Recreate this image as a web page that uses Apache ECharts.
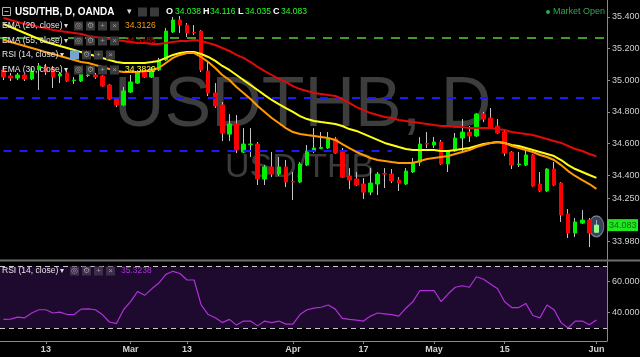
<!DOCTYPE html>
<html><head><meta charset="utf-8">
<script src="https://cdn.jsdelivr.net/npm/echarts@6/dist/echarts.min.js"></script>
<style>html,body{margin:0;padding:0;background:#000;}#c{width:640px;height:357px;}</style>
</head><body><div id="c"></div>
<script>
// ---- data (USD/THB daily, OANDA) ----
const open = [35.065,35.027,35.014,35.033,35.008,35.065,35.084,35.071,35.027,35.046,
 34.998,34.995,35.030,35.033,35.027,34.970,34.881,34.843,34.925,34.982,
 35.052,35.020,35.065,35.128,35.305,35.381,35.349,35.302,35.311,35.058,
 34.919,34.843,34.659,34.723,34.545,34.593,34.596,34.375,34.451,34.406,
 34.451,34.359,34.356,34.463,34.552,34.568,34.571,34.628,34.545,34.394,
 34.375,34.343,34.292,34.343,34.409,34.406,34.368,34.343,34.419,34.482,
 34.599,34.590,34.609,34.470,34.552,34.634,34.672,34.647,34.786,34.761,
 34.710,34.672,34.545,34.466,34.463,34.527,34.343,34.299,34.438,34.349,
 34.153,34.033,34.096,34.115,34.038];
const close = [35.020,35.014,35.033,35.008,35.058,35.090,35.052,35.020,35.039,34.995,
 35.001,35.039,35.033,35.020,34.963,34.881,34.843,34.932,34.989,35.052,
 35.020,35.071,35.128,35.311,35.381,35.349,35.299,35.299,35.065,34.919,
 34.837,34.666,34.723,34.558,34.596,34.596,34.375,34.451,34.406,34.451,
 34.356,34.356,34.470,34.552,34.571,34.574,34.628,34.539,34.387,34.368,
 34.337,34.292,34.349,34.406,34.406,34.362,34.349,34.425,34.482,34.596,
 34.596,34.609,34.470,34.552,34.634,34.672,34.647,34.786,34.754,34.697,
 34.666,34.539,34.463,34.470,34.527,34.330,34.299,34.438,34.337,34.147,
 34.033,34.103,34.115,34.033,34.083];
const high = [35.090,35.046,35.046,35.039,35.077,35.109,35.103,35.090,35.052,35.058,
 35.020,35.046,35.065,35.046,35.033,34.976,34.887,34.957,35.033,35.058,
 35.065,35.084,35.141,35.330,35.400,35.406,35.362,35.349,35.318,35.122,
 34.982,34.862,34.786,34.780,34.697,34.697,34.609,34.463,34.546,34.514,
 34.495,34.419,34.482,34.590,34.697,34.672,34.672,34.641,34.571,34.444,
 34.419,34.381,34.444,34.419,34.444,34.438,34.387,34.444,34.508,34.640,
 34.672,34.641,34.622,34.558,34.666,34.754,34.710,34.792,34.799,34.824,
 34.754,34.678,34.552,34.546,34.558,34.533,34.419,34.444,34.482,34.356,
 34.185,34.128,34.178,34.128,34.116];
const low = [35.001,34.995,35.001,34.995,35.001,34.938,35.033,34.951,34.982,34.989,
 34.976,34.989,35.020,35.008,34.957,34.875,34.830,34.837,34.919,34.976,
 35.014,35.014,35.058,35.122,35.299,35.299,35.273,35.286,35.052,34.900,
 34.824,34.615,34.615,34.539,34.539,34.514,34.337,34.337,34.387,34.394,
 34.324,34.242,34.349,34.457,34.539,34.565,34.565,34.533,34.381,34.311,
 34.330,34.248,34.273,34.273,34.318,34.349,34.299,34.337,34.413,34.457,
 34.571,34.571,34.463,34.419,34.546,34.546,34.609,34.641,34.735,34.691,
 34.659,34.520,34.438,34.451,34.457,34.324,34.292,34.292,34.330,34.103,
 34.001,34.008,34.090,33.944,34.035];
const ema20 = [35.254,35.242,35.229,35.216,35.204,35.191,35.178,35.166,35.153,35.141,
 35.128,35.115,35.109,35.096,35.084,35.071,35.058,35.052,35.052,35.052,
 35.058,35.065,35.077,35.109,35.141,35.160,35.172,35.172,35.147,35.115,
 35.077,35.033,35.001,34.957,34.919,34.881,34.837,34.799,34.761,34.729,
 34.697,34.672,34.660,34.653,34.647,34.641,34.634,34.622,34.596,34.571,
 34.546,34.527,34.508,34.495,34.489,34.482,34.476,34.476,34.476,34.489,
 34.501,34.508,34.514,34.520,34.533,34.546,34.558,34.577,34.590,34.603,
 34.609,34.603,34.584,34.571,34.558,34.546,34.527,34.514,34.495,34.463,
 34.425,34.394,34.368,34.343,34.3126];
const ema30 = [35.356,35.337,35.318,35.299,35.280,35.261,35.242,35.229,35.216,35.204,
 35.191,35.178,35.166,35.153,35.141,35.128,35.115,35.109,35.109,35.109,
 35.109,35.115,35.122,35.141,35.160,35.172,35.178,35.178,35.166,35.147,
 35.122,35.090,35.065,35.033,35.001,34.970,34.938,34.906,34.875,34.849,
 34.824,34.799,34.773,34.754,34.742,34.735,34.729,34.723,34.710,34.691,
 34.679,34.660,34.641,34.622,34.603,34.590,34.577,34.565,34.558,34.558,
 34.558,34.558,34.552,34.552,34.558,34.565,34.571,34.584,34.596,34.603,
 34.609,34.603,34.590,34.584,34.571,34.558,34.546,34.533,34.520,34.495,
 34.463,34.438,34.419,34.400,34.382];
const ema55 = [35.394,35.381,35.368,35.356,35.349,35.337,35.330,35.318,35.311,35.305,
 35.299,35.292,35.280,35.273,35.267,35.261,35.254,35.248,35.242,35.235,
 35.235,35.229,35.229,35.235,35.242,35.248,35.248,35.254,35.248,35.235,
 35.223,35.204,35.185,35.160,35.141,35.115,35.084,35.058,35.033,35.008,
 34.989,34.963,34.944,34.932,34.919,34.913,34.906,34.900,34.881,34.856,
 34.830,34.811,34.792,34.780,34.767,34.761,34.748,34.742,34.735,34.729,
 34.723,34.716,34.710,34.710,34.704,34.704,34.697,34.697,34.697,34.697,
 34.691,34.685,34.672,34.666,34.660,34.653,34.641,34.628,34.615,34.603,
 34.584,34.565,34.552,34.533,34.5185];
const rsi = [35.7,35.9,37.1,36.7,39.8,41.9,41.9,39.8,40.4,38.8,
 38.8,42.3,42.5,41.9,38.8,34.0,33.0,41.9,47.1,53.7,
 51.2,55.4,59.1,64.7,66.7,65.3,61.1,61.1,45.0,38.8,
 36.7,33.6,35.7,32.0,34.6,34.6,31.5,34.6,33.6,34.6,
 32.6,32.6,38.8,41.9,42.9,43.5,45.0,42.3,36.3,35.7,
 35.2,34.6,37.8,39.8,39.3,38.8,37.8,42.9,47.1,54.3,
 54.3,54.3,47.1,52.2,56.4,57.4,56.4,63.2,61.6,58.5,
 55.4,47.1,43.3,43.3,46.0,38.2,36.7,45.0,41.9,33.6,
 30.1,34.6,34.6,32.2,35.3238];
const priceTicks = [35.4, 35.2, 35.0, 34.8, 34.6, 34.4, 34.25, 33.98];
const rsiTicks = [40, 60];
const rsiBands = [30, 70];
const levelGreen = 35.268, levelBlueHigh = 34.893, levelBlueLow = 34.555;
const dateTicks = ['2017-02-13','2017-03-01','2017-03-13','2017-04-03','2017-04-17','2017-05-01','2017-05-15','2017-06-01'];
const dateTickLabels = ['13','Mar','13','Apr','17','May','15','Jun'];
const firstDay = '2017-02-03', lastSlot = '2017-06-02';

// trading-day categories (Mon-Fri)
const dates = [];
for (let d = new Date(firstDay + 'T00:00:00Z'); d <= new Date(lastSlot + 'T00:00:00Z'); d.setUTCDate(d.getUTCDate() + 1)) {
  const wd = d.getUTCDay();
  if (wd !== 0 && wd !== 6) dates.push(d.toISOString().slice(0, 10));
}
const tickMap = {}; dateTicks.forEach((d, i) => tickMap[d] = dateTickLabels[i]);
const n = close.length, last = n - 1;

const F = "'Liberation Sans', Arial, sans-serif";
function txt(x, y, s, color, size, weight) {
  return {type:'text', x:x, y:y, z:100, silent:true,
    style:{text:s, fill:color, font:(weight||'normal') + ' ' + size + 'px ' + F, verticalAlign:'middle'}};
}
function box(x, y, fill) {
  return {type:'rect', z:100, silent:true, shape:{x:x, y:y, width:9, height:9}, style:{fill:fill}};
}
function iconRow(x0, y, firstFill, base) {
  const out = [], glyphs = ['\u25CE','\u2699','+','\u00D7'];
  for (let k = 0; k < 4; k++) {
    const x = x0 + k * 12;
    out.push(box(x, y - 4.5, k === 0 && firstFill ? firstFill : base));
    out.push({type:'text', x:x + 4.5, y:y, z:101, silent:true,
      style:{text:glyphs[k], fill:'#9a9a9a', font:'8px ' + F, align:'center', verticalAlign:'middle'}});
  }
  return out;
}

const graphics = [
  {type:'text', x:114, y:107, z:0, silent:true, style:{text:'USDTHB, D', fill:'#3d3d3d', font:'70px ' + F, verticalAlign:'middle'}},
  {type:'text', x:225, y:168, z:0, silent:true, style:{text:'USD/THB', fill:'#3b3b3b', font:'34px ' + F, verticalAlign:'middle'}},
  {type:'line', z:100, silent:true, shape:{x1:0, y1:260.5, x2:640, y2:260.5}, style:{stroke:'#6e6e6e', lineWidth:2}},
  {type:'rect', z:100, silent:true, shape:{x:2.5, y:7.5, width:8, height:8}, style:{fill:'none', stroke:'#b0b0b0', lineWidth:1}},
  {type:'line', z:100, silent:true, shape:{x1:4.5, y1:11.5, x2:8.5, y2:11.5}, style:{stroke:'#b0b0b0', lineWidth:1}},
  txt(15, 12, 'USD/THB, D, OANDA', '#ffffff', 10, 'bold'),
  txt(127, 12, '\u25BE', '#dddddd', 9),
  box(138, 7.5, '#3a3a3a'), box(150, 7.5, '#3a3a3a'),
  txt(166, 12, 'O', '#ffffff', 9, 'bold'), txt(175, 12, open[last].toFixed(3), '#22ff22', 8.5),
  txt(203, 12, 'H', '#ffffff', 9, 'bold'), txt(210, 12, high[last].toFixed(3), '#22ff22', 8.5),
  txt(238, 12, 'L', '#ffffff', 9, 'bold'), txt(245, 12, low[last].toFixed(3), '#22ff22', 8.5),
  txt(273, 12, 'C', '#ffffff', 9, 'bold'), txt(281, 12, close[last].toFixed(3), '#22ff22', 8.5),
  {type:'circle', z:100, silent:true, shape:{cx:548, cy:12, r:2}, style:{fill:'#2fa84f'}},
  txt(553, 12, 'Market Open', '#2fa84f', 9),
  txt(2, 26, 'EMA (20, close)', '#e6e6e6', 8.5), txt(64, 26, '\u25BE', '#dddddd', 8),
  txt(125, 26, ema20[last].toFixed(4), '#ff9a00', 8.5),
  txt(2, 41, 'EMA (55, close)', '#e6e6e6', 8.5), txt(64, 41, '\u25BE', '#dddddd', 8),
  txt(125, 41, ema55[last].toFixed(4), '#e00000', 8.5),
  txt(2, 55, 'RSI (14, close)', '#e6e6e6', 8.5), txt(60, 55, '\u25BE', '#dddddd', 8),
  txt(2, 70, 'EMA (30, close)', '#e6e6e6', 8.5), txt(64, 70, '\u25BE', '#dddddd', 8),
  txt(125, 70, ema30[last].toFixed(4), '#ffff33', 8.5),
  txt(2, 271, 'RSI (14, close)', '#e6e6e6', 8.5), txt(60, 271, '\u25BE', '#dddddd', 8),
  txt(121, 271, rsi[last].toFixed(4), '#b030d8', 8.5)
].concat(iconRow(74, 26, null, '#3a3a3a'), iconRow(74, 41, null, '#3a3a3a'),
  iconRow(70, 55, '#6fa8dc', '#3a3a3a'), iconRow(74, 70, null, '#3a3a3a'),
  iconRow(70, 271, null, '#3d2f4c'));

const wickData = open.map((o, i) => [o, close[i], low[i], high[i]]);
const bodyData = open.map((o, i) => {
  const v = [o, close[i], Math.min(o, close[i]), Math.max(o, close[i])];
  return i === last ? {value:v, itemStyle:{color:'#8dff8d', borderColor:'#8dff8d'}} : v;
});

const axisCol = '#8a8a8a', labCol = '#d0d0d0';
const option = {
  backgroundColor:'#000', animation:false,
  grid:[
    {left:0, right:33, top:0, height:261, containLabel:false, outerBoundsMode:'none'},
    {left:0, right:33, top:261, height:80, containLabel:false, outerBoundsMode:'none'}
  ],
  xAxis:[
    {type:'category', gridIndex:0, data:dates, boundaryGap:true, axisLine:{show:false}, axisTick:{show:false}, axisLabel:{show:false}, splitLine:{show:false}},
    {type:'category', gridIndex:1, data:dates, boundaryGap:true,
      axisLine:{show:true, lineStyle:{color:axisCol, width:1}},
      axisTick:{show:true, alignWithLabel:true, length:3, interval:(i, v) => v in tickMap, lineStyle:{color:axisCol}},
      axisLabel:{show:true, interval:(i, v) => v in tickMap, formatter:v => tickMap[v] || '', color:labCol, fontSize:9, fontWeight:'bold', fontFamily:F, margin:4},
      splitLine:{show:false}}
  ],
  yAxis:[
    {type:'value', gridIndex:0, position:'right', min:33.856, max:35.5076,
      axisLine:{show:true, lineStyle:{color:axisCol}},
      axisTick:{show:true, customValues:priceTicks, length:3, lineStyle:{color:axisCol}},
      axisLabel:{show:true, customValues:priceTicks, formatter:v => v.toFixed(3), color:labCol, fontSize:9, fontFamily:F, margin:5},
      splitLine:{show:false}},
    {type:'value', gridIndex:1, position:'right', min:21.74, max:73.35,
      axisLine:{show:true, lineStyle:{color:axisCol}},
      axisTick:{show:true, customValues:rsiTicks, length:3, lineStyle:{color:axisCol}},
      axisLabel:{show:true, customValues:rsiTicks, formatter:v => v.toFixed(4), color:labCol, fontSize:9, fontFamily:F, margin:5},
      splitLine:{show:false}}
  ],
  graphic:graphics,
  series:[
    {type:'candlestick', name:'wick', xAxisIndex:0, yAxisIndex:0, data:wickData, barWidth:1, z:2, silent:true,
      itemStyle:{color:'#c4c4c4', color0:'#c4c4c4', borderColor:'#c4c4c4', borderColor0:'#c4c4c4', borderWidth:1},
      markLine:{silent:true, symbol:'none', animation:false, label:{show:false},
        data:[
          {yAxis:levelGreen, lineStyle:{color:'#3f9b2b', width:2, type:[9,8]}},
          {yAxis:levelBlueHigh, lineStyle:{color:'#1a1aff', width:2, type:[8,8]}},
          [{coord:[dates[0], levelBlueLow], lineStyle:{color:'#1a1aff', width:2, type:[8,8]}}, {coord:[dates[55], levelBlueLow]}]
        ]}},
    {type:'scatter', xAxisIndex:0, yAxisIndex:0, z:3, silent:true, symbol:'circle', symbolSize:[15,21],
      data:[[dates[last], (high[last] + low[last]) / 2]],
      itemStyle:{color:'rgba(120,140,185,0.6)', borderColor:'rgba(190,200,225,0.7)', borderWidth:1}},
    {type:'candlestick', name:'body', xAxisIndex:0, yAxisIndex:0, data:bodyData, barWidth:4, z:4, silent:true,
      itemStyle:{color:'#00f000', color0:'#ff0000', borderColor:'#00f000', borderColor0:'#ff0000', borderWidth:1}},
    {type:'line', name:'EMA55', xAxisIndex:0, yAxisIndex:0, data:ema55, symbol:'none', z:5, silent:true, lineStyle:{color:'#e00a0a', width:2}},
    {type:'line', name:'EMA30', xAxisIndex:0, yAxisIndex:0, data:ema30, symbol:'none', z:5, silent:true, lineStyle:{color:'#ffff14', width:2}},
    {type:'line', name:'EMA20', xAxisIndex:0, yAxisIndex:0, data:ema20, symbol:'none', z:5, silent:true, lineStyle:{color:'#ff9a00', width:2}},
    {type:'line', name:'RSI', xAxisIndex:1, yAxisIndex:1, data:rsi, symbol:'none', z:5, silent:true, lineStyle:{color:'#b030d8', width:1.2},
      markArea:{silent:true, itemStyle:{color:'#1d0a2e'}, data:[[{yAxis:rsiBands[0]}, {yAxis:rsiBands[1]}]]},
      markLine:{silent:true, symbol:'none', label:{show:false}, lineStyle:{color:'#c8c8c8', width:1, type:[5,4]},
        data:rsiBands.map(v => ({yAxis:v}))}}
  ]
};
const chart = echarts.init(document.getElementById('c'), null, {renderer:'canvas'});
chart.setOption(option);
// last-price tag on the price scale, placed through the axis scale
const py = chart.convertToPixel({yAxisIndex:0}, close[last]);
graphics.push({type:'rect', z:110, silent:true, shape:{x:607, y:py - 6, width:31, height:12}, style:{fill:'#1ee81e'}});
graphics.push({type:'text', x:609, y:py, z:111, silent:true,
  style:{text:close[last].toFixed(3), fill:'#0b6a0b', font:'9px ' + F, verticalAlign:'middle'}});
chart.setOption({graphic:graphics});
</script>
</body></html>
